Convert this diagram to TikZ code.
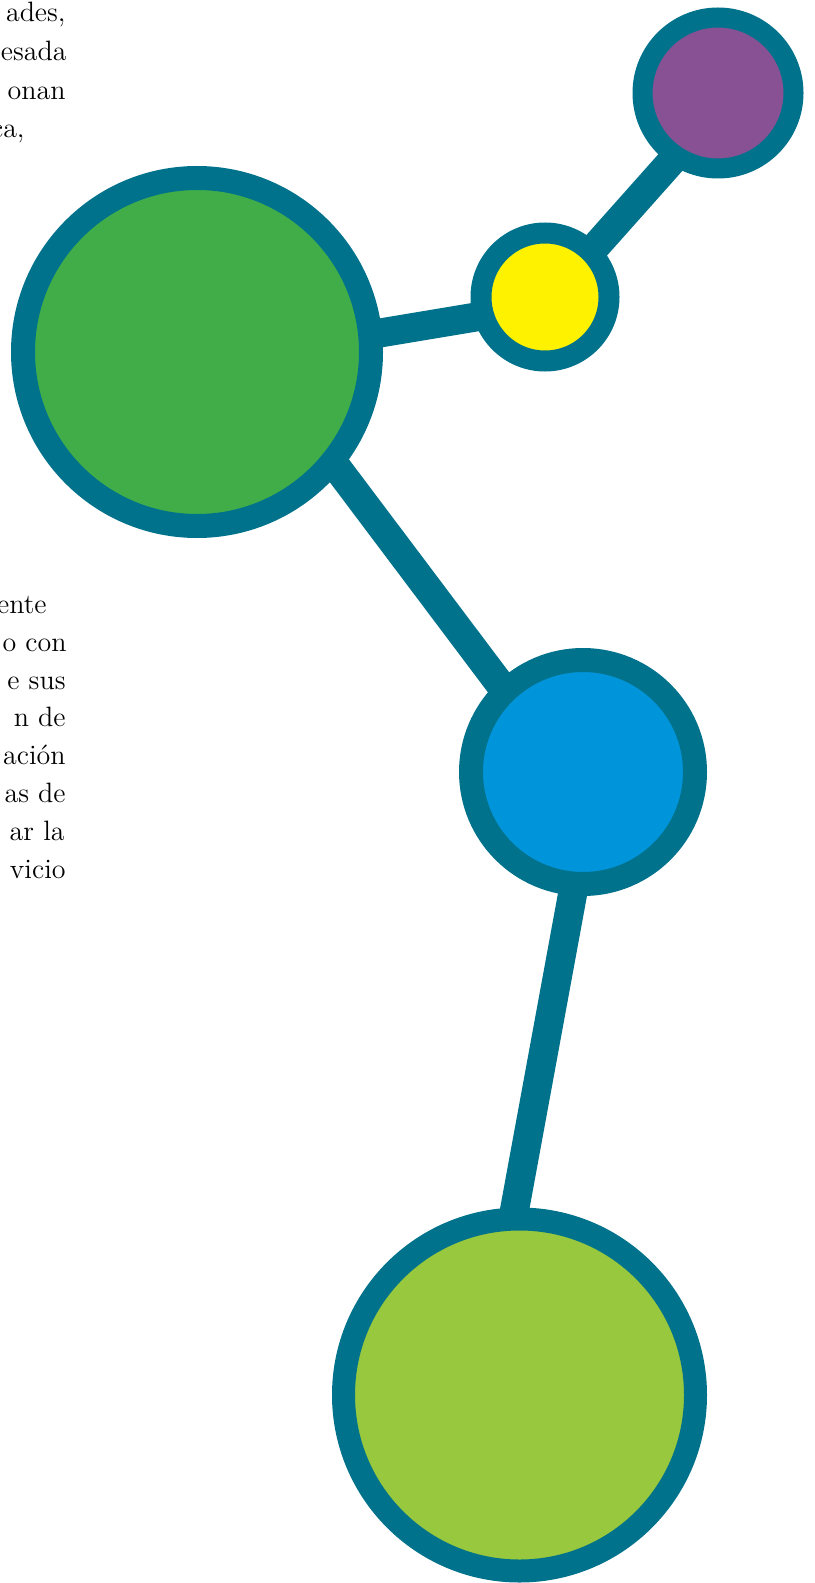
\documentclass[tikz,border=0pt]{standalone}
\usetikzlibrary{backgrounds}
\definecolor{rimteal}{RGB}{0,114,139}
\definecolor{dotgreen}{RGB}{65,173,73}
\definecolor{dotyellow}{RGB}{255,242,0}
\definecolor{dotpurple}{RGB}{135,81,147}
\definecolor{dotblue}{RGB}{0,149,218}
\definecolor{dotlime}{RGB}{151,200,61}

\begin{document}
\begin{tikzpicture}[x=0.5pt,y=-0.5pt]
        \useasboundingbox (0,0) rectangle (814,1583);
        \begin{scope}[every node/.style={circle,draw=rimteal,inner sep=0pt}]
            \node (G) [fill=dotgreen, line width=12pt, minimum size=174pt] at (197,352) {};
            \node (Y) [fill=dotyellow, line width=10.5pt, minimum size=64pt] at (545,297) {};
            \node (P) [fill=dotpurple, line width=10pt, minimum size=75.5pt] at (718,93) {};
            \node (B) [fill=dotblue, line width=12pt, minimum size=112pt] at (583,772) {};
            \node (L) [fill=dotlime, line width=11.5pt, minimum size=176pt] at (519.5,1395) {};
        \end{scope}

        \begin{scope}[on background layer,
                      every edge/.style={draw=rimteal,line width=14.5pt}]
            \path ([yshift=-5.75pt]G.center) edge ([yshift=-4.25pt]Y.center);
            \path ([yshift=-3.2pt]Y.center) edge ([yshift=-8pt]P.center);
            \path ([xshift=26.5pt]G.center) edge ([xshift=-8.5pt]B.center);
            \path ([xshift=6pt]B.center) edge ([xshift=-19.5pt]L.center);
        \end{scope}

        \begin{scope}[every node/.style={anchor=base east,inner sep=0pt,font=\fontsize{14}{17}\selectfont}]
            \node (t1) at (66,21.5) {ades,};
            \node (t2) at (67,60.3) {esada};
            \node (t3) at (66,99.1) {onan};
            \node (t4) at (25,137.9) {ca,};
            \node (m1) at (47,613) {ente};
            \node (m2) at (67,651) {o con};
            \node (m3) at (66,689) {e sus};
            \node (m4) at (66,726) {n de};
            \node (m5) at (66,764) {ación};
            \node (m6) at (66,802) {as de};
            \node (m7) at (65,840) {ar la};
            \node (m8) at (66,878) {vicio};
        \end{scope}
    \end{tikzpicture}
\end{document}
